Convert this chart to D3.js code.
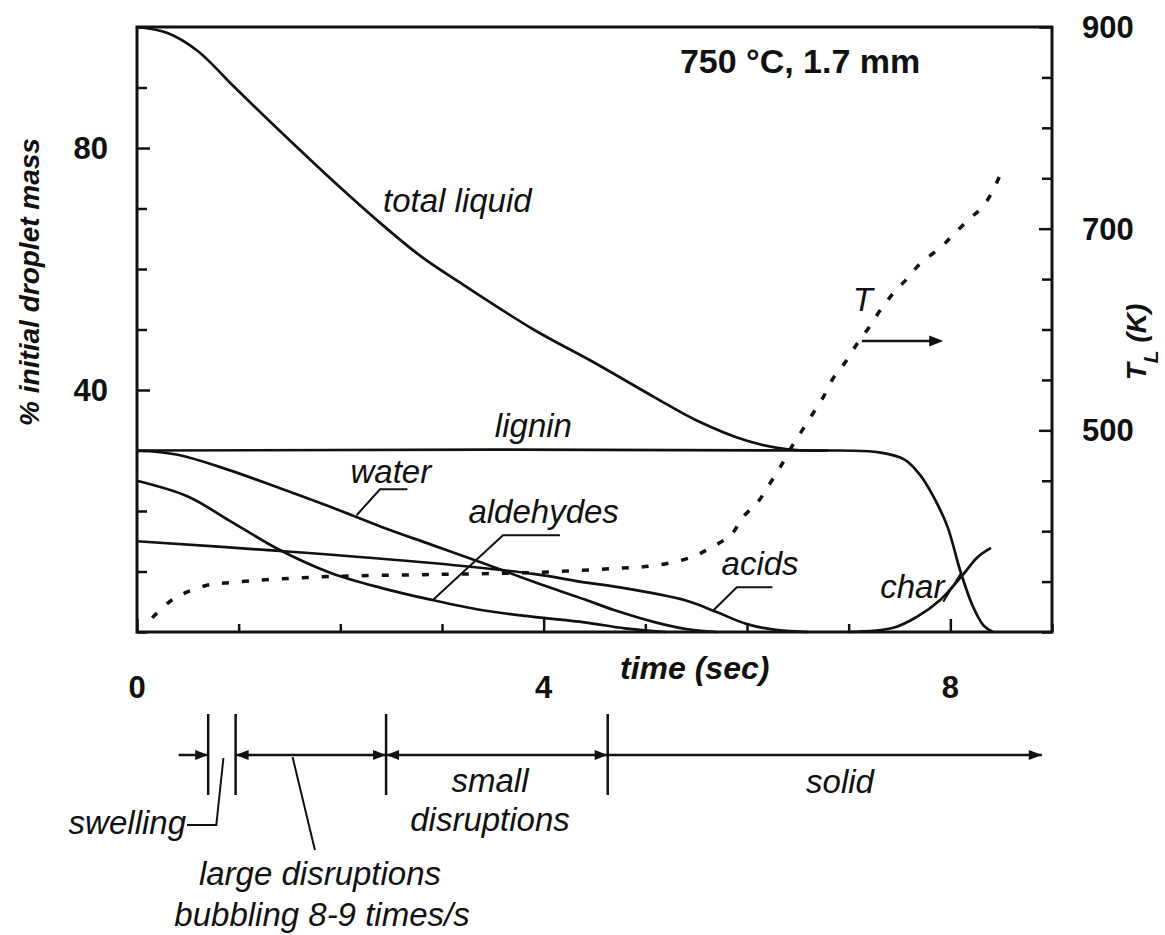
<html>
<head>
  <meta charset="utf-8">
  <title>droplet mass</title>
  <script src="https://d3js.org/d3.v7.min.js"></script>
  <style>
    body { margin: 0; background: #fff; }
    text { font-family: "Liberation Sans", Arial, sans-serif; fill: #111; }
  </style>
</head>
<body>
<script>
// mass curves: [time (s), % initial droplet mass]
var totalLiquid = [[0,100],[0.3,99],[0.6,96],[0.95,90.2],[1.3,84.5],[1.9,75],[2.4,67.5],[2.8,62],[3.2,57.5],[3.9,50],[4.5,44.5],[5.1,38.7],[5.5,35],[6.0,31.6],[6.4,30.2],[6.8,30]];
var lignin = [[0,30],[6.9,30],[7.3,29.7],[7.55,28.5],[7.7,26],[7.83,22.5],[7.97,17.5],[8.1,10],[8.22,4.3],[8.33,1],[8.42,0]];
var water = [[0,30],[0.4,29.3],[0.9,26.8],[1.4,23.8],[1.9,20.7],[2.4,17.4],[2.9,14.4],[3.4,11.4],[3.9,8.3],[4.4,5.4],[4.7,3.6],[5.1,1.6],[5.4,0.5],[5.7,0]];
var aldehydes = [[0,25],[0.5,22.4],[0.9,18.5],[1.4,13.6],[1.9,9.8],[2.4,7.3],[2.9,5.3],[3.4,3.6],[3.9,2.5],[4.4,1.6],[4.8,0.6],[5.2,0]];
var acids = [[0,15],[1.4,13.4],[2.9,11.4],[3.9,9.6],[4.4,8.2],[4.7,7.5],[5.4,5.2],[5.7,3.3],[6.0,1.3],[6.3,0.3],[6.6,0]];
var charMass = [[7.0,0],[7.44,0.7],[7.67,2.5],[7.9,5.3],[8.12,9.4],[8.27,12.4],[8.4,13.9]];
// droplet temperature [time (s), K]
var tempK = [[0.15,314],[0.32,330],[0.5,340],[0.72,347],[0.92,349],[1.3,352],[1.9,355],[2.9,357],[3.9,359],[4.7,363],[5.1,366],[5.45,374],[5.65,384],[5.84,396],[5.96,414],[6.1,428],[6.23,448],[6.33,464],[6.43,482],[6.53,498],[6.65,517],[6.75,533],[6.85,552],[6.97,568],[7.09,587],[7.2,602],[7.31,619],[7.44,636],[7.58,651],[7.71,666],[7.9,681],[8.03,694],[8.18,709],[8.32,722],[8.43,740],[8.52,761]];

var xTicks = [0,1,2,3,4,5,6,7,8,9];
var xLabels = [0,4,8];
var leftTicks = [0,10,20,30,40,50,60,70,80,90,100];
var leftLabels = [40,80];
var rightTicks = [300,350,400,450,500,550,600,650,700,750,800,850,900];
var rightLabels = [500,700,900];

// regime boundaries along the time line (s)
var stageBounds = [0.7, 0.97, 2.45, 4.63];
var stageSpan = [0.41, 8.9];

var width = 1165, height = 935;
var plot = {l:137, r:1052, t:27, b:632};

var svg = d3.select("body").append("svg")
  .attr("width", width).attr("height", height);

var x = d3.scaleLinear().domain([0,9]).range([plot.l,plot.r]);
var y = d3.scaleLinear().domain([0,100]).range([plot.b,plot.t]);
var yT = d3.scaleLinear().domain([300,900]).range([plot.b,plot.t]);

//axes with inward ticks
var gx = svg.append("g").attr("transform","translate(0,"+plot.b+")")
  .call(d3.axisTop(x).tickValues(xTicks).tickSize(9).tickFormat(""));
gx.selectAll(".tick line").attr("y2", function(d){ return xLabels.indexOf(d) >= 0 ? -13 : -8; });

var gl = svg.append("g").attr("transform","translate("+plot.l+",0)")
  .call(d3.axisRight(y).tickValues(leftTicks).tickSize(10).tickFormat(""));
gl.selectAll(".tick line").attr("x2", function(d){ return leftLabels.indexOf(d) >= 0 ? 13 : 10; });

var gr = svg.append("g").attr("transform","translate("+plot.r+",0)")
  .call(d3.axisLeft(yT).tickValues(rightTicks).tickSize(10).tickFormat(""));
gr.selectAll(".tick line").attr("x2", function(d){ return rightLabels.indexOf(d) >= 0 ? -13 : -10; });

svg.selectAll(".domain").remove();
svg.selectAll(".tick line").attr("stroke","#111").attr("stroke-width",2.5);

svg.append("rect")
  .attr("x",plot.l).attr("y",plot.t).attr("width",plot.r-plot.l).attr("height",plot.b-plot.t)
  .attr("fill","none").attr("stroke","#111").attr("stroke-width",3);

//tick labels
svg.selectAll(".xl").data(xLabels).enter().append("text")
  .attr("x", function(d){ return x(d); }).attr("y", 698)
  .attr("text-anchor","middle").style("font-size","31px").style("font-weight","bold")
  .text(function(d){ return d; });

svg.selectAll(".ll").data(leftLabels).enter().append("text")
  .attr("x", 108).attr("y", function(d){ return y(d) + 11; })
  .attr("text-anchor","end").style("font-size","31px").style("font-weight","bold")
  .text(function(d){ return d; });

svg.selectAll(".rl").data(rightLabels).enter().append("text")
  .attr("x", 1082).attr("y", function(d){ return yT(d) + 11; })
  .style("font-size","31px").style("font-weight","bold")
  .text(function(d){ return d; });

//axis titles
svg.append("text")
  .attr("transform","translate(39,282) rotate(-90)")
  .attr("text-anchor","middle")
  .style("font-size","28px").style("font-weight","bold").style("font-style","italic")
  .text("% initial droplet mass");

var tl = svg.append("text")
  .attr("transform","translate(1146,342) rotate(-90)")
  .attr("text-anchor","middle")
  .style("font-size","28px").style("font-weight","bold").style("font-style","italic");
tl.append("tspan").text("T");
tl.append("tspan").attr("baseline-shift","sub").style("font-size","21px").text("L");
tl.append("tspan").text(" (K)");

svg.append("text")
  .attr("x",620).attr("y",679)
  .style("font-size","32px").style("font-weight","bold").style("font-style","italic")
  .text("time (sec)");

svg.append("text")
  .attr("x",x(5.34)).attr("y",y(92.4))
  .style("font-size","34px").style("font-weight","bold")
  .text("750 \u00B0C, 1.7 mm");

//curves
var line = d3.line()
  .x(function(d){ return x(d[0]); })
  .y(function(d){ return y(d[1]); })
  .curve(d3.curveCatmullRom.alpha(0.5));

var lineT = d3.line()
  .x(function(d){ return x(d[0]); })
  .y(function(d){ return yT(d[1]); })
  .curve(d3.curveCatmullRom.alpha(0.5));

[totalLiquid, lignin, water, aldehydes, acids, charMass].forEach(function(s){
  svg.append("path").datum(s)
    .attr("d", line)
    .attr("fill","none").attr("stroke","#111").attr("stroke-width",2.7);
});

svg.append("path").datum(tempK)
  .attr("d", lineT)
  .attr("fill","none").attr("stroke","#111").attr("stroke-width",3.5)
  .attr("stroke-dasharray","7,13");

//curve labels
function italic(txt, px, py, anchor){
  return svg.append("text").attr("x",px).attr("y",py)
    .attr("text-anchor", anchor || "start")
    .style("font-size","33px").style("font-style","italic")
    .text(txt);
}
function leader(pts){
  svg.append("path")
    .attr("d", d3.line()(pts))
    .attr("fill","none").attr("stroke","#111").attr("stroke-width",2);
}

italic("total liquid", x(2.42), y(69.4));
italic("lignin", x(3.52), y(32.2));
italic("water", x(2.10), y(24.6));
leader([[x(2.16),y(19.3)],[x(2.39),y(23.6)],[x(2.66),y(23.6)]]);
italic("aldehydes", x(3.26), y(18.0));
leader([[x(2.91),y(5.3)],[x(3.6),y(16.0)],[x(4.16),y(16.0)]]);
italic("acids", x(5.75), y(9.4));
leader([[x(5.67),y(3.6)],[x(5.9),y(7.4)],[x(6.25),y(7.4)]]);
italic("char", x(7.31), y(5.6));
leader([[x(7.93),y(5.0)],[x(8.1),y(9.6)]]);

italic("T", x(7.04), y(53));
svg.append("line")
  .attr("x1",x(7.13)).attr("x2",x(7.8)).attr("y1",y(48.1)).attr("y2",y(48.1))
  .attr("stroke","#111").attr("stroke-width",2.5);
svg.append("path")
  .attr("d","M"+x(7.93)+","+y(48.1)+"l-14,-5.5l0,11z").attr("fill","#111");

//regime time line
var tlY = 755;
function arrowHead(t, dir){
  var tx = x(t);
  svg.append("path")
    .attr("d","M"+tx+","+tlY+"l"+(-dir*13)+",-5l0,10z")
    .attr("fill","#111");
}
var segs = [[stageSpan[0],stageBounds[0]],[stageBounds[1],stageBounds[2]],[stageBounds[2],stageBounds[3]],[stageBounds[3],stageSpan[1]]];
svg.selectAll(".seg").data(segs).enter().append("line")
  .attr("x1",function(d){ return x(d[0]); }).attr("x2",function(d){ return x(d[1]); })
  .attr("y1",tlY).attr("y2",tlY)
  .attr("stroke","#111").attr("stroke-width",2.5);
svg.selectAll(".mk").data(stageBounds).enter().append("line")
  .attr("x1",function(d){ return x(d); }).attr("x2",function(d){ return x(d); })
  .attr("y1",714).attr("y2",795)
  .attr("stroke","#111").attr("stroke-width",2.5);
arrowHead(stageBounds[0], 1);
arrowHead(stageBounds[1], -1);
arrowHead(stageBounds[2], 1);
arrowHead(stageBounds[2], -1);
arrowHead(stageBounds[3], 1);
arrowHead(stageSpan[1], 1);

italic("swelling", 186, 834, "end");
leader([[187,825],[x(0.78),825],[x(0.85),758]]);
leader([[x(1.53),757],[x(1.75),850]]);
italic("small", 490, 792, "middle");
italic("disruptions", 490, 831, "middle");
italic("large disruptions", 320, 885, "middle");
italic("bubbling 8-9 times/s", 322, 926, "middle");
italic("solid", 840, 793, "middle");
</script>
</body>
</html>
